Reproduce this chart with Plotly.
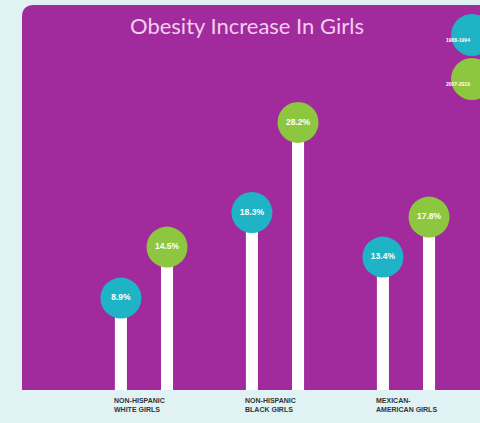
import plotly.graph_objects as go
import numpy as np

categories = ["NON-HISPANIC<br>WHITE GIRLS", "NON-HISPANIC<br>BLACK GIRLS", "MEXICAN-<br>AMERICAN GIRLS"]
series_names = ["1988-1994", "2007-2010"]
early = [8.9, 18.3, 13.4]
late = [14.5, 28.2, 17.8]

PURPLE = "#a12a9c"
BG = "#e1f2f5"
TEAL = "#1fb3c6"
GREEN = "#8dc63f"

idx = np.arange(len(categories))
off = 0.176
stem_w = 0.092
y_lo, y_hi = -1.2, 41.1

fig = go.Figure()
for vals, sign, col, name in [(early, -1, TEAL, series_names[0]), (late, 1, GREEN, series_names[1])]:
    fig.add_trace(go.Bar(
        x=idx, y=np.array(vals) - y_lo + 1, base=y_lo - 1,
        offset=sign * off - stem_w / 2, width=stem_w,
        marker=dict(color="white", line=dict(width=0)),
        hoverinfo="skip", showlegend=False))
    fig.add_trace(go.Scatter(
        x=idx + sign * off, y=vals, mode="markers+text",
        marker=dict(size=41, color=col, line=dict(width=0)),
        text=[f"<b>{v}%</b>" for v in vals], textposition="middle center",
        textfont=dict(color="white", size=8.5, family="Liberation Sans Narrow, Arial Narrow, sans-serif"),
        name=name, showlegend=False, cliponaxis=False))

W, H = 480, 423
ml, mr, mt, mb = 22, 0, 5, 33
pw, ph = W - ml - mr, H - mt - mb
rx, ry = 12 / pw, 12 / ph
path = (f"M 0 {1-ry} Q 0 1 {rx} 1 L 1.05 1 L 1.05 0 L 0 0 Z")

shapes = [dict(type="path", xref="paper", yref="paper", path=path,
               fillcolor=PURPLE, line=dict(width=0), layer="below")]
annotations = [dict(text="Obesity Increase In Girls", xref="paper", yref="paper",
                    x=(247 - ml) / pw, y=1 - 20 / ph, xanchor="center", yanchor="middle", showarrow=False,
                    font=dict(size=22, color="#f4cdf0", family="Lato, Open Sans, sans-serif"))]
# legend circles
for i, (col, name) in enumerate([(TEAL, series_names[0]), (GREEN, series_names[1])]):
    cy = 35 + i * 44
    cx = 472
    r = 21
    shapes.append(dict(type="circle", xref="paper", yref="paper",
                       x0=(cx - r - ml) / pw, x1=(cx + r - ml) / pw,
                       y0=1 - (cy + r - mt) / ph, y1=1 - (cy - r - mt) / ph,
                       fillcolor=col, line=dict(width=0)))
    annotations.append(dict(text=f"<b>{name}</b>", xref="paper", yref="paper",
                            x=(cx - ml) / pw, y=1 - (cy - mt) / ph, showarrow=False,
                            font=dict(size=5, color="white", family="Liberation Sans Narrow, sans-serif")))
for i, c in enumerate(categories):
    annotations.append(dict(text=f"<b>{c}</b>", xref="x", yref="paper", x=i - off - 0.07, y=-5 / ph,
                            xanchor="left", yanchor="top", align="left", showarrow=False,
                            font=dict(size=7, color="#333333",
                                      family="Liberation Sans Narrow, Arial Narrow, sans-serif")))

fig.update_layout(
    width=W, height=H, margin=dict(l=ml, r=mr, t=mt, b=mb),
    paper_bgcolor=BG, plot_bgcolor="rgba(0,0,0,0)",
    barmode="overlay", shapes=shapes, annotations=annotations,
    xaxis=dict(range=[-0.931, 2.565], showgrid=False, zeroline=False, showticklabels=False,
               tickvals=list(idx), ticktext=categories, showline=False),
    yaxis=dict(range=[y_lo, y_hi], showgrid=False, zeroline=False, showticklabels=False),
)
fig.write_html("out.html", config={"displayModeBar": False},
               post_script="document.body.style.margin='0';document.body.style.overflow='hidden';")
